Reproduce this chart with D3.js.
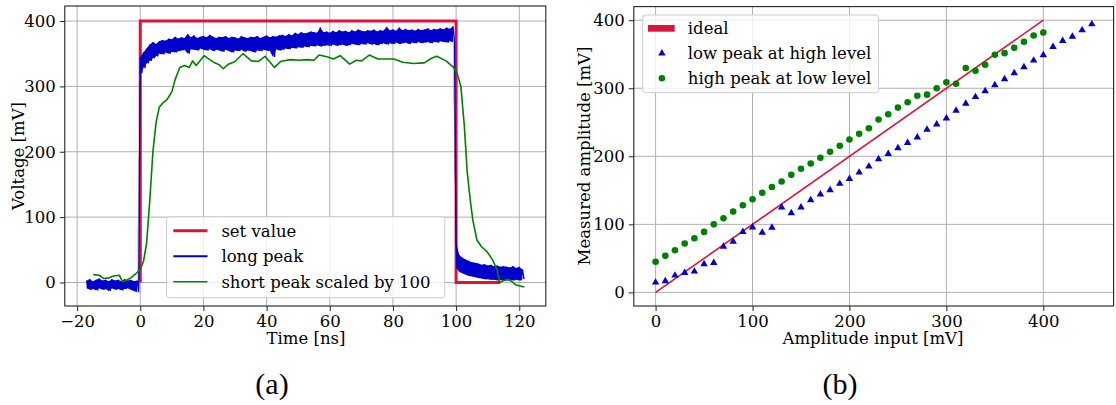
<!DOCTYPE html>
<html>
<head>
<meta charset="utf-8">
<script src="https://cdn.jsdelivr.net/npm/d3@7"></script>
<style>
  body { margin: 0; background: #fff; }
</style>
</head>
<body>
<svg id="fig" width="1116" height="405"></svg>
<script>
// ---------- panel (a): pulse response ----------
const setTime  = [0, 0, 100, 100, 114];
const setValue = [0, 400, 400, 0, 0];

// long peak, oscilloscope record decimated to min/max per 1 ns bin
const longTime = [-17,-16,-15,-14,-13,-12,-11,-10,-9,-8,-7,-6,-5,-4,-3,-2,-1,
  0,1,2,3,4,5,6,7,8,9,10,11,12,13,14,15,16,17,18,19,20,21,22,23,24,25,26,27,28,29,
  30,31,32,33,34,35,36,37,38,39,40,41,42,43,44,45,46,47,48,49,50,51,52,53,54,55,56,57,58,59,
  60,61,62,63,64,65,66,67,68,69,70,71,72,73,74,75,76,77,78,79,80,81,82,83,84,85,86,87,88,89,
  90,91,92,93,94,95,96,97,98,99,100,101,102,103,104,105,106,107,108,109,
  110,111,112,113,114,115,116,117,118,119,120,121];
const longLow = [-9,-11,-10,-12,-9,-11,-10,-13,-9,-11,-10,-12,-10,-9,-11,-13,-15,
  320,328,335,339,343,346,350,349,352,350,
  353,352,354,355,356,350,357,356,355,358,
  356,355,357,354,356,355,353,356,354,352,
  355,354,356,353,355,354,352,355,354,356,
  355,354,345,357,355,356,358,357,359,358,
  360,359,361,360,362,361,363,361,362,363,
  362,364,362,363,364,362,363,365,364,363,
  365,364,366,364,365,363,365,366,364,366,
  365,367,365,366,367,365,367,366,368,366,
  367,368,366,368,367,369,368,367,369,368,
  22,16,14,12,10,9,8,7,6,5,
  5,4,4,3,4,3,3,4,3,4,3,5];
const longHigh = [3,5,2,4,6,3,4,2,5,3,4,2,5,3,4,2,3,
  345,352,358,364,368,365,369,371,370,373,
  372,376,373,375,374,380,375,378,374,376,
  377,375,379,376,374,376,375,377,374,376,
  375,373,377,375,374,376,375,377,374,376,
  378,375,377,376,378,379,377,380,378,382,
  380,383,381,382,384,383,382,390,383,384,
  382,385,383,386,384,385,383,386,384,387,
  385,384,386,385,387,384,386,385,391,386,
  387,385,390,386,388,386,387,385,388,386,
  387,389,386,388,387,389,387,390,388,392,
  62,42,38,35,33,31,30,29,27,28,
  26,27,25,26,24,25,24,23,25,22,24,20];

// short peak (x100)
const shortTime = [-14.9,-13,-11.5,-10,-8.5,-6.6,-5.6,-4.6,-3,-1.5,0,1,2,3,4,5,6,7,8.5,10,11,
  12.5,14,15.5,16.6,17.7,20.2,22,23.2,25,26.3,27.9,30,32.5,35.2,37.3,39.5,42.5,44.4,47.5,
  50.4,52.6,55,56.6,59.4,61.1,63.3,66.3,68.4,70.1,72.5,75.2,77.5,80.3,83.1,86.5,89.9,92.2,
  93.9,96.8,99,100.2,101.5,102.6,103.5,104.5,105.3,106.6,108,109.8,111.5,112.9,113.8,115,
  116.4,117.5,119,121.6];
const shortValue = [12,11,6,7,10,11,1,3,7,13,20,32,60,125,200,245,268,274,280,292,310,
  329,332,329,339,332,347,341,337,333,327,334,338,350,339,338,346,329,338,341,
  340,341,340,348,345,342,347,334,340,339,348,342,342,342,337,335,336,343,
  346,339,330,322,300,240,170,125,95,65,55,47,35,20,0,3,
  5,2,-4,-7];

const timeTicks = [-20, 0, 20, 40, 60, 80, 100, 120];
const voltTicks = [0, 100, 200, 300, 400];

// ---------- panel (b): amplitude linearity ----------
const idealInput  = [0, 400];
const idealOutput = [0, 400];

const lowInput = [0,10,20,30,40,50,60,70,80,90,100,110,120,130,140,150,160,170,180,190,
  200,210,220,230,240,250,260,270,280,290,300,310,320,330,340,350,360,370,380,390,
  400,410,420,430,440,450];
const lowMeasured = [14.6,16.6,24.9,28.8,30.8,41.5,43.5,67.4,74.7,88.9,95.7,87.9,95.2,125,116.7,
  125,135.8,144,150.4,159.7,167,176.3,185.1,195.8,203.7,212,219.8,228,239.3,247.1,
  255.9,267.2,277.4,287.2,296,304.8,313.6,322.3,331.1,340.9,348.7,361,369.7,376,385.3,394.1];

const highInput = [0,10,20,30,40,50,60,70,80,90,100,110,120,130,140,150,160,170,180,190,
  200,210,220,230,240,250,260,270,280,290,300,310,320,330,340,350,360,370,380,390,400];
const highMeasured = [45,53.7,62,71.8,79.6,88.9,100,109,118.7,128,136.8,146.5,154.8,163,172.9,
  181.7,189.5,197.8,206.6,215.4,224.7,233,241.3,254,261.8,271.6,279.4,289,290.6,299.9,
  308.7,306.7,329.7,325.8,334.6,349.2,351.6,359.5,368.3,377.5,381.9];

const ampTicks = [0, 100, 200, 300, 400];

// ---------- styling ----------
const RED = "#dc143c", BLUE = "#0000cd", GREEN = "#008000";
const GRID = "#b0b0b0";
const FS = 16.5;
const SERIF = '"DejaVu Serif", "Liberation Serif", serif';
const CAPTION = '"Liberation Serif", "DejaVu Serif", serif';

const svg = d3.select("#fig");

function frame(x, y, xTicks, yTicks) {
  const g = svg.append("g");
  const [x0, x1] = x.range(), [y0, y1] = y.range();
  g.selectAll(".gx").data(xTicks).join("line")
    .attr("x1", d => x(d)).attr("x2", d => x(d)).attr("y1", y0).attr("y2", y1)
    .attr("stroke", GRID).attr("stroke-width", 1);
  g.selectAll(".gy").data(yTicks).join("line")
    .attr("y1", d => y(d)).attr("y2", d => y(d)).attr("x1", x0).attr("x2", x1)
    .attr("stroke", GRID).attr("stroke-width", 1);
  return g;
}

function axes(x, y, xTicks, yTicks) {
  const fmt = d => (d < 0 ? "\u2212" + Math.abs(d) : String(d));
  const ax = svg.append("g").attr("transform", `translate(0,${y.range()[0]})`)
    .call(d3.axisBottom(x).tickValues(xTicks).tickFormat(fmt).tickSize(5).tickPadding(4));
  const ay = svg.append("g").attr("transform", `translate(${x.range()[0]},0)`)
    .call(d3.axisLeft(y).tickValues(yTicks).tickFormat(fmt).tickSize(5).tickPadding(4));
  [ax, ay].forEach(a => {
    a.select(".domain").remove();
    a.attr("font-family", null).attr("font-size", null);
    a.selectAll("text").style("font-family", SERIF).style("font-size", FS + "px").attr("fill", "#000");
    a.selectAll("line").attr("stroke", "#222").attr("stroke-width", 1);
  });
  const [x0, x1] = x.range(), [y0, y1] = y.range();
  svg.append("rect").attr("x", x0).attr("y", y1).attr("width", x1 - x0).attr("height", y0 - y1)
    .attr("fill", "none").attr("stroke", "#222").attr("stroke-width", 1.1);
}

function label(x, y, txt, opts = {}) {
  const t = svg.append("text")
    .attr("x", x).attr("y", y)
    .attr("text-anchor", opts.anchor || "start")
    .style("font-family", opts.family || SERIF)
    .style("font-size", (opts.size || FS) + "px")
    .attr("fill", "#000")
    .text(txt);
  if (opts.rotate) t.attr("x", null).attr("y", null)
    .attr("transform", `translate(${x},${y}) rotate(${opts.rotate})`);
  return t;
}

function legendBox(x, y, w, h) {
  svg.append("rect").attr("x", x).attr("y", y).attr("width", w).attr("height", h)
    .attr("rx", 3).attr("fill", "#fff").attr("fill-opacity", 0.8)
    .attr("stroke", "#cccccc").attr("stroke-width", 1);
}

// ===== panel (a) =====
const xa = d3.scaleLinear().domain([-23.9, 128.4]).range([64.8, 545.8]);
const ya = d3.scaleLinear().domain([-36, 423]).range([306, 6]);
frame(xa, ya, timeTicks, voltTicks);

const plotA = svg.append("g");
// set value
plotA.append("path")
  .attr("d", d3.line().x((d, i) => xa(setTime[i])).y(d => ya(d))(setValue))
  .attr("fill", "none").attr("stroke", RED).attr("stroke-width", 3);

// long peak: filled min/max band plus zig-zag trace
const bandIdx = d3.range(longTime.length);
plotA.append("path")
  .attr("d", d3.area().x(i => xa(longTime[i])).y0(i => ya(longLow[i])).y1(i => ya(longHigh[i]))(bandIdx))
  .attr("fill", BLUE);
const zig = [];
bandIdx.forEach(i => {
  zig.push([longTime[i], longHigh[i]]);
  zig.push([longTime[i] + 0.5, longLow[i]]);
});
plotA.append("path")
  .attr("d", d3.line().x(d => xa(d[0])).y(d => ya(d[1]))(zig))
  .attr("fill", "none").attr("stroke", BLUE).attr("stroke-width", 1.3);

// short peak
plotA.append("path")
  .attr("d", d3.line().x((d, i) => xa(shortTime[i])).y(d => ya(d))(shortValue))
  .attr("fill", "none").attr("stroke", GREEN).attr("stroke-width", 1.6).attr("stroke-linejoin", "round");

axes(xa, ya, timeTicks, voltTicks);

// legend (a)
legendBox(166.5, 216.7, 278.3, 81);
const legA = [
  { label: "set value", color: RED, w: 3 },
  { label: "long peak", color: BLUE, w: 2 },
  { label: "short peak scaled by 100", color: GREEN, w: 1.6 }
];
legA.forEach((d, i) => {
  const cy = 230.7 + i * 25.5;
  svg.append("line").attr("x1", 173.3).attr("x2", 207.5).attr("y1", cy).attr("y2", cy)
    .attr("stroke", d.color).attr("stroke-width", d.w);
  label(221.4, cy + 5.8, d.label);
});

label(23.5, 156, "Voltage [mV]", { anchor: "middle", rotate: -90 });
label(306, 343.5, "Time [ns]", { anchor: "middle" });
label(272, 393.5, "(a)", { anchor: "middle", family: CAPTION, size: 30 });

// ===== panel (b) =====
const xb = d3.scaleLinear().domain([-22.5, 472.5]).range([633.8, 1113.6]);
const yb = d3.scaleLinear().domain([-20, 420]).range([306, 6.6]);
frame(xb, yb, ampTicks, ampTicks);

const plotB = svg.append("g");
plotB.append("path")
  .attr("d", d3.line().x((d, i) => xb(idealInput[i])).y(d => yb(d))(idealOutput))
  .attr("fill", "none").attr("stroke", RED).attr("stroke-width", 1.6);

const tri = d3.symbol().type(d3.symbolTriangle).size(24);
plotB.selectAll(".tri").data(lowMeasured).join("path")
  .attr("d", tri)
  .attr("transform", (d, i) => `translate(${xb(lowInput[i])},${yb(d)})`)
  .attr("fill", BLUE);

plotB.selectAll(".dot").data(highMeasured).join("circle")
  .attr("cx", (d, i) => xb(highInput[i])).attr("cy", d => yb(d)).attr("r", 3.3)
  .attr("fill", GREEN);

axes(xb, yb, ampTicks, ampTicks);

// legend (b)
legendBox(642.7, 15, 235.7, 77.7);
svg.append("rect").attr("x", 648).attr("y", 25).attr("width", 26.7).attr("height", 6.7).attr("fill", RED);
label(687.8, 28.3 + 5.8, "ideal");
svg.append("path").attr("d", tri).attr("transform", "translate(661.9,53.3)").attr("fill", BLUE);
label(687.8, 53.3 + 5.8, "low peak at high level");
svg.append("circle").attr("cx", 661.9).attr("cy", 78.3).attr("r", 3.3).attr("fill", GREEN);
label(687.8, 78.3 + 5.8, "high peak at low level");

label(590, 156, "Measured amplitude [mV]", { anchor: "middle", rotate: -90 });
label(873, 343.5, "Amplitude input [mV]", { anchor: "middle" });
label(840, 393.5, "(b)", { anchor: "middle", family: CAPTION, size: 30 });
</script>
</body>
</html>
